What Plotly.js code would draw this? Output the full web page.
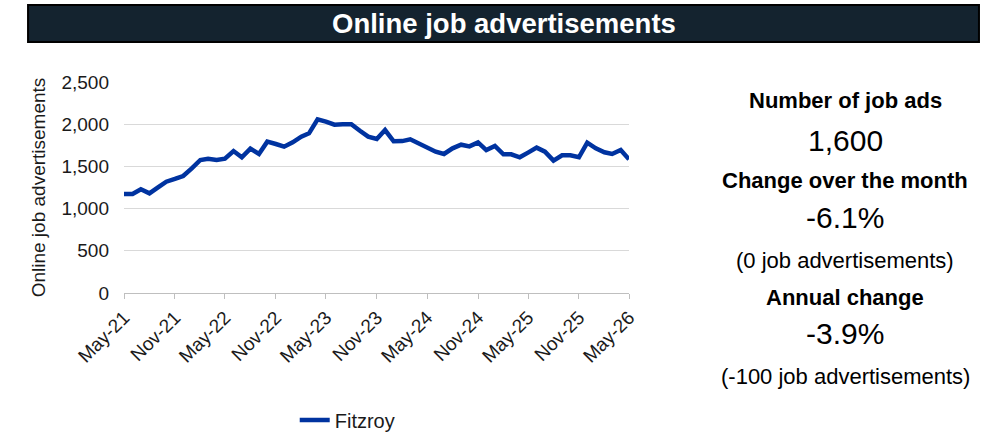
<!DOCTYPE html>
<html>
<head>
<meta charset="utf-8">
<script src="https://cdn.plot.ly/plotly-3.0.1.min.js"></script>
<style>
  html, body { margin: 0; padding: 0; background: #fff; }
  #graph { width: 989px; height: 443px; }
</style>
</head>
<body>
<div id="graph"></div>
<script>
// monthly online job ads, Fitzroy, May-21 .. May-26
var months = [];
for (var m = 0; m <= 60; m++) {
    var yr = 2021 + Math.floor((4 + m) / 12);
    var mo = (4 + m) % 12 + 1;
    months.push(yr + '-' + (mo < 10 ? '0' + mo : mo) + '-01');
}
var jobAds = [
    1173, 1173, 1229, 1181, 1252, 1319, 1351, 1386, 1477, 1576,
    1591, 1576, 1591, 1682, 1608, 1710, 1647, 1793, 1765, 1734,
    1785, 1852, 1892, 2058, 2030, 1994, 2000, 2000, 1923, 1852,
    1825, 1931, 1797, 1800, 1821, 1773, 1734, 1674, 1647, 1714,
    1757, 1737, 1785, 1694, 1742, 1643, 1643, 1608, 1663, 1722,
    1674, 1568, 1631, 1631, 1608, 1781, 1714, 1667, 1647, 1694,
    1584
];
var seriesName = 'Fitzroy';
var yTicks = [0, 500, 1000, 1500, 2000, 2500];

var sideLabels = ['Number of job ads', 'Change over the month', 'Annual change'];
var sideValues = ['1,600', '-6.1%', '-3.9%'];
var sideNotes = ['(0 job advertisements)', '(-100 job advertisements)'];

var font = 'Liberation Sans, Arial, sans-serif';
var ink = '#1a1a1a';

var data = [{
    x: months,
    y: jobAds,
    mode: 'lines',
    name: seriesName,
    line: {color: '#0033a0', width: 4.5}
}];

function txt(text, y, size, bold) {
    return {
        text: bold ? '<b>' + text + '</b>' : text,
        xref: 'paper', yref: 'paper',
        x: 1.428, y: y,
        xanchor: 'center', yanchor: 'middle',
        showarrow: false,
        font: {family: font, size: size, color: '#000'}
    };
}

var annotations = [
    {
        text: '<b>Online job advertisements</b>',
        xref: 'paper', yref: 'paper', x: 0.752, y: 1.277,
        xanchor: 'center', yanchor: 'middle', showarrow: false,
        font: {family: font, size: 27.5, color: '#fff'}
    },
    txt(sideLabels[0], 0.910, 22, true),
    txt(sideValues[0], 0.725, 30, false),
    txt(sideLabels[1], 0.531, 22, true),
    txt(sideValues[1], 0.360, 30, false),
    txt(sideNotes[0], 0.156, 22, false),
    txt(sideLabels[2], -0.019, 22, true),
    txt(sideValues[2], -0.190, 30, false),
    txt(sideNotes[1], -0.398, 22, false)
];

var layout = {
    width: 989,
    height: 443,
    margin: {l: 124, r: 360, t: 82, b: 150},
    paper_bgcolor: '#fff',
    plot_bgcolor: '#fff',
    font: {family: font, size: 20, color: ink},
    showlegend: true,
    legend: {
        orientation: 'h',
        xref: 'container', yref: 'container',
        x: 0.298, y: 0.052,
        xanchor: 'left', yanchor: 'middle',
        font: {family: font, size: 20, color: ink}
    },
    xaxis: {
        type: 'date',
        range: ['2021-05-01', '2026-05-01'],
        dtick: 'M6',
        tick0: '2021-05-01',
        tickformat: '%b-%y',
        tickangle: -45,
        ticks: 'outside',
        ticklen: 5,
        tickcolor: '#bfbfbf',
        showgrid: false,
        showline: true,
        linecolor: '#bfbfbf',
        linewidth: 1,
        automargin: false,
        tickfont: {family: font, size: 19, color: ink}
    },
    yaxis: {
        range: [0, 2500],
        tickvals: yTicks,
        tickformat: ',',
        showgrid: true,
        gridcolor: '#d9d9d9',
        gridwidth: 1,
        zeroline: false,
        ticks: '',
        ticklabelstandoff: 14,
        automargin: false,
        tickfont: {family: font, size: 19, color: ink},
        title: {text: 'Online job advertisements', font: {family: font, size: 19, color: ink}, standoff: 10}
    },
    shapes: [{
        type: 'rect', xref: 'paper', yref: 'paper',
        x0: -0.190, x1: 1.693, y0: 1.19, y1: 1.365,
        fillcolor: '#14232f',
        line: {color: '#000', width: 2},
        layer: 'above'
    }],
    annotations: annotations
};

Plotly.newPlot('graph', data, layout, {displayModeBar: false, staticPlot: true});
</script>
</body>
</html>
